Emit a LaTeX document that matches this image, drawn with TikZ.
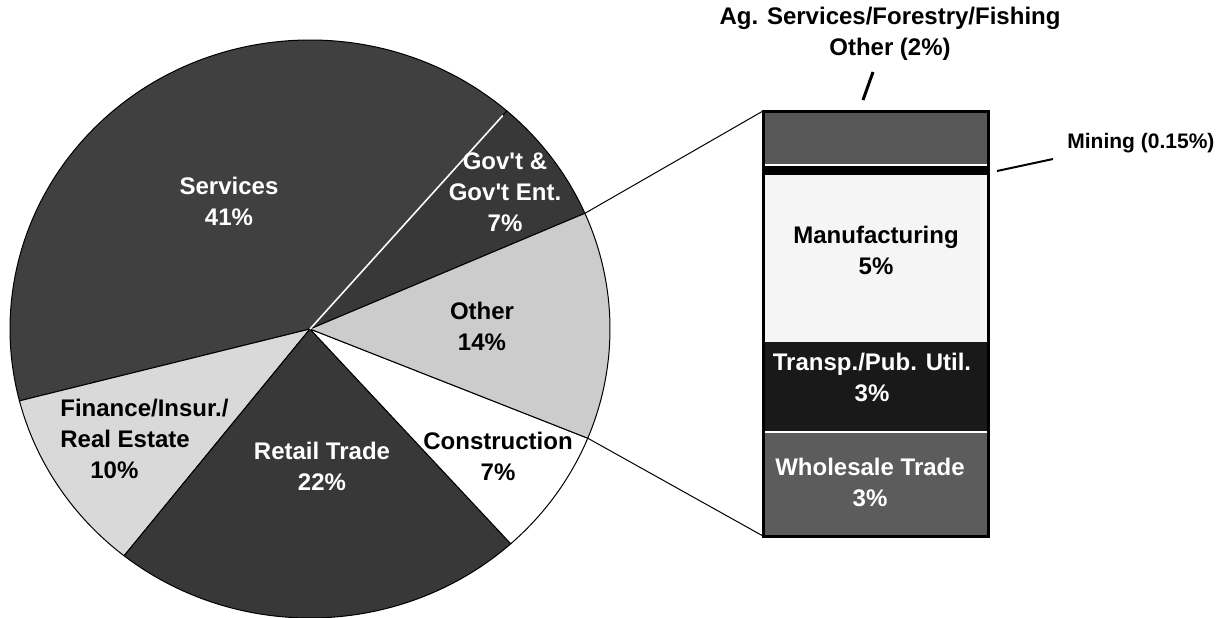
\documentclass[tikz,border=0pt]{standalone}
\usepackage{fontspec}
\setmainfont{Liberation Sans}
\usetikzlibrary{positioning,calc}

\colorlet{svcgray}{black!75}
\colorlet{govgray}{black!78}
\colorlet{othgray}{black!20}
\colorlet{congray}{white}
\colorlet{retgray}{black!78}
\colorlet{fingray}{black!15}
\colorlet{aggray}{black!66}
\colorlet{mangray}{black!4}
\colorlet{trngray}{black!90}
\colorlet{whlgray}{black!64}

\begin{document}
\begin{tikzpicture}[x=0.5pt,y=0.5pt,
	slice/.style={draw=black,line width=0.5pt},
	lab/.style={font=\bfseries\fontsize{12}{15.5}\selectfont,align=center,inner sep=0pt},
	seg/.style={inner sep=0pt,outer sep=0pt,minimum width=112.5pt,anchor=north}]
\useasboundingbox (0,0) rectangle (1226,-617);

% pie
\coordinate (c) at (310,-329);
\foreach \a/\b/\f in {23.6/49/govgray, 49/194.4/svcgray, 194.4/231.7/fingray,
	231.7/312/retgray, 312/337.8/congray, 337.8/383.6/othgray}
	\filldraw[slice,fill=\f] (c) -- ++(\a:300 and 289) arc[start angle=\a, end angle=\b, x radius=300, y radius=289] -- cycle;
\draw[white,line width=0.8pt] (c) -- ++(49:294 and 283);
\coordinate (gotip) at ($(c)+(23.6:300 and 289)$);
\coordinate (cotip) at ($(c)+(-22.2:300 and 289)$);

\node[lab,text=white] (svclab) at (229,-201) {Services\\41\%};
\node[lab,text=white] (govlab) at (505,-192) {Gov\textquotesingle t \&\\Gov\textquotesingle t Ent.\\7\%};
\node[lab] (othlab) at (482,-326) {Other\\14\%};
\node[lab] (conlab) at (498,-456) {Construction\\7\%};
\node[lab,text=white] (retlab) at (322,-466) {Retail Trade\\22\%};
\node[lab,align=left,anchor=west] (finlab) at (60,-439) {Finance/Insur./\\Real Estate\\\hspace*{15pt}10\%};

% bar
\node[seg,fill=aggray,minimum height=26.5pt] (ag) at (875.5,-111) {};
\node[seg,fill=black,minimum height=4.5pt,below=1pt of ag] (mine) {};
\node[seg,fill=mangray,minimum height=83.5pt,below=0pt of mine] (manuf) {};
\node[seg,fill=trngray,minimum height=44.5pt,below=0pt of manuf] (transp) {};
\node[seg,fill=whlgray,minimum height=51.5pt,below=1pt of transp] (whole) {};
\draw[line width=1.5pt] (ag.north west) rectangle (whole.south east);

\node[lab] (manlab) at (876,-250.5) {Manufacturing\\5\%};
\node[lab,text=white] (trnlab) at (872,-377.5) {Transp./Pub. Util.\\3\%};
\node[lab,text=white] (whllab) at (870,-482.5) {Wholesale Trade\\3\%};

\draw[line width=0.5pt] (gotip) -- (ag.north west);
\draw[line width=0.5pt] (cotip) -- (whole.south west);

% outside labels
\node[lab] (aglab) at (890,-34) {Ag. Services/Forestry/Fishing\\Other (2\%)};
\node[lab,font=\bfseries\fontsize{10.5}{13}\selectfont,anchor=west] (minlab) at (1067,-143) {Mining (0.15\%)};
\coordinate (agt1) at (873,-72);
\coordinate (agt2) at (863,-100);
\coordinate (mnt1) at (1053,-159);
\coordinate (mnt2) at (997,-171);
\draw[line width=1.5pt] (agt1) -- (agt2);
\draw[line width=1pt] (mnt1) -- (mnt2);
\end{tikzpicture}
\end{document}
